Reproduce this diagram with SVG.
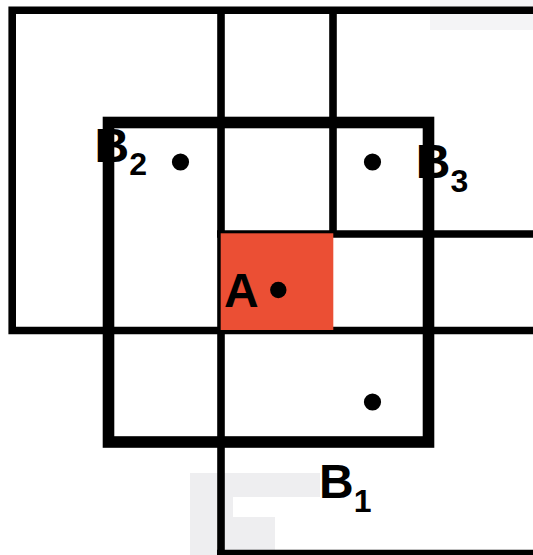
<svg xmlns="http://www.w3.org/2000/svg" width="533" height="555" viewBox="0 0 533 555">
  <style>
    .thin { fill: none; stroke: #000; stroke-width: 7.6; }
    .thick { fill: none; stroke: #000; stroke-width: 11.6; }
    .dot { fill: #000; }
    .lbl { font-family: "Liberation Sans", Arial, sans-serif; font-weight: bold; fill: #000; }
    .big { font-size: 48px; }
    .sub { font-size: 32px; }
    .wm { fill: #d4d4da; }
  </style>
  <rect width="533" height="555" fill="#fff"/>
  <g id="watermark">
    <path class="wm" opacity="0.4" d="M190 473 H320 V497 H233 V517 H275 V555 H190 Z"/>
    <rect class="wm" x="430" y="0" width="103" height="30" opacity="0.25"/>
  </g>
  <g id="grid">
    <path class="thin" d="M8.4 10.3 H533 M12.2 6.5 V334.3 M8.4 330.5 H533 M221 6.5 V557 M333 6.5 V234 M217 234 H533 M217 553.5 H533"/>
  </g>
  <g id="A">
    <rect x="220.7" y="233.3" width="112.6" height="96.7" fill="#EB4F34"/>
    <circle class="dot" cx="278.3" cy="290" r="8.2"/>
    <text class="lbl big" x="224" y="307">A</text>
  </g>
  <g id="window">
    <rect class="thick" x="108.5" y="122.5" width="320" height="319.5"/>
  </g>
  <g id="B2">
    <circle class="dot" cx="180.5" cy="162" r="8.6"/>
    <text class="lbl" x="94.5" y="162"><tspan class="big">B</tspan><tspan class="sub" dy="13">2</tspan></text>
  </g>
  <g id="B3">
    <circle class="dot" cx="372.5" cy="162" r="8.6"/>
    <text class="lbl" x="415.8" y="177.5"><tspan class="big">B</tspan><tspan class="sub" dy="14.5">3</tspan></text>
  </g>
  <g id="B1">
    <circle class="dot" cx="372.5" cy="402" r="8.6"/>
    <text class="lbl" x="319" y="497.5"><tspan class="big">B</tspan><tspan class="sub" dy="14.5">1</tspan></text>
  </g>
</svg>
